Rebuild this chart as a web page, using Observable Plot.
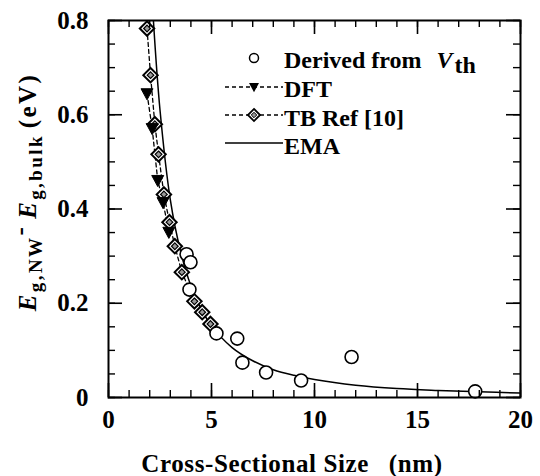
<!DOCTYPE html>
<html><head><meta charset="utf-8">
<script src="https://cdn.jsdelivr.net/npm/d3@7"></script>
<script src="https://cdn.jsdelivr.net/npm/@observablehq/plot@0.6"></script>
<style>
body{margin:0;background:#fff}
#chart{position:relative;width:540px;height:476px}
g[aria-label="ytick-label"] text{letter-spacing:3px}
</style></head><body><div id="chart"></div>
<script>
// ---- data ----
const vthX = [3.79, 3.98, 3.93, 5.24, 6.25, 6.5, 7.65, 9.35, 11.8, 17.8];
const vthY = [0.304, 0.287, 0.229, 0.136, 0.125, 0.074, 0.053, 0.036, 0.086, 0.013];
const dftX = [1.87, 2.12, 2.39, 2.65, 2.93];
const dftY = [0.645, 0.571, 0.461, 0.414, 0.351];
const tbX = [1.87, 2.04, 2.25, 2.43, 2.69, 2.96, 3.22, 3.56, 4.17, 4.55, 4.95];
const tbY = [0.783, 0.684, 0.58, 0.516, 0.431, 0.372, 0.321, 0.266, 0.204, 0.181, 0.156];
const emaX = [2.18, 2.5, 3, 3.5, 4, 4.5, 5, 6, 7, 8, 9, 10, 12, 14, 16, 18, 20];
const emaY = [0.80, 0.61, 0.42, 0.31, 0.237, 0.188, 0.152, 0.106, 0.078, 0.059, 0.047, 0.038, 0.026, 0.019, 0.015, 0.012, 0.0095];
const xTickLabels = [0, 5, 10, 15, 20];
const yTickLabels = [0, 0.2, 0.4, 0.6, 0.8];
const xMinor = d3.range(0, 21, 1);
const yMinor = d3.range(0, 0.801, 0.05);
const legendLabels = ["Derived from", "DFT", "TB Ref [10]", "EMA"];

// ---- tables ----
const zip = (xs, ys) => xs.map((x, i) => ({x, y: ys[i]}));
const vth = zip(vthX, vthY), dft = zip(dftX, dftY), tb = zip(tbX, tbY), ema = zip(emaX, emaY);

const W = 540, H = 476, mL = 108, mR = 20, mT = 20, mB = 79;
const pw = W - mL - mR, ph = H - mT - mB;
const font = "'Liberation Serif','Times New Roman',serif";
const triDown = {draw(ctx, size) {
  const r = Math.sqrt(size / Math.PI);
  ctx.moveTo(-r, -r * 0.8); ctx.lineTo(r, -r * 0.8); ctx.lineTo(0, r * 1.05); ctx.closePath();
}};

const plot = Plot.plot({
  width: W, height: H, marginLeft: mL, marginRight: mR, marginTop: mT, marginBottom: mB,
  x: {domain: [0, 20], axis: null},
  y: {domain: [0, 0.8], axis: null},
  style: {fontFamily: font, fontWeight: "bold", background: "white", color: "black"},
  marks: [
    Plot.line(ema, {x: "x", y: "y", curve: "catmull-rom", stroke: "black", strokeWidth: 1.5, clip: true}),
    Plot.line(dft, {x: "x", y: "y", stroke: "black", strokeWidth: 1.3, strokeDasharray: "4,3"}),
    Plot.line(tb, {x: "x", y: "y", stroke: "black", strokeWidth: 1.3, strokeDasharray: "4,3"}),
    Plot.dot(tb, {x: "x", y: "y", symbol: "diamond2", r: 6.5, fill: "white", stroke: "black", strokeWidth: 2}),
    Plot.dot(tb, {x: "x", y: "y", symbol: "diamond2", r: 3, fill: "#999", stroke: "black", strokeWidth: 1.2}),
    Plot.dot(dft, {x: "x", y: "y", symbol: triDown, r: 6, fill: "black", stroke: "black", strokeWidth: 1}),
    Plot.dot(vth, {x: "x", y: "y", r: 6.5, fill: "white", stroke: "black", strokeWidth: 1.6}),
    // ticks (inward, all four sides)
    Plot.ruleX(xMinor, {x: d => d, insetTop: ph - 7, strokeWidth: 1.4}),
    Plot.ruleX(xTickLabels, {x: d => d, insetTop: ph - 14, strokeWidth: 1.6}),
    Plot.ruleX(xMinor, {x: d => d, insetBottom: ph - 7, strokeWidth: 1.4}),
    Plot.ruleX(xTickLabels, {x: d => d, insetBottom: ph - 14, strokeWidth: 1.6}),
    Plot.ruleY(yMinor, {y: d => d, insetRight: pw - 7, strokeWidth: 1.4}),
    Plot.ruleY(yTickLabels, {y: d => d, insetRight: pw - 14, strokeWidth: 1.6}),
    Plot.ruleY(yMinor, {y: d => d, insetLeft: pw - 7, strokeWidth: 1.4}),
    Plot.ruleY(yTickLabels, {y: d => d, insetLeft: pw - 14, strokeWidth: 1.6}),
    Plot.frame({stroke: "black", strokeWidth: 2}),
    Plot.text(xTickLabels, {x: d => d, text: d => String(d), frameAnchor: "bottom", dy: 30, fontSize: 25, fontWeight: "bold", fill: "black", ariaLabel: "xtick-label"}),
    Plot.text(yTickLabels, {y: d => d, text: d => d === 0 ? "0" : d.toFixed(1), frameAnchor: "left", dx: -20, textAnchor: "end", fontSize: 25, fontWeight: "bold", fill: "black", ariaLabel: "ytick-label"})
  ]
});
document.getElementById("chart").appendChild(plot);

const svg = d3.select(plot);

// x title
const xt = svg.append("text").attr("x", 292).attr("y", 472).attr("text-anchor", "middle")
  .attr("font-size", 25).attr("font-weight", "bold").attr("font-family", font).attr("fill", "black")
  .style("letter-spacing", "0.6px");
xt.append("tspan").text("Cross-Sectional Size");
xt.append("tspan").attr("dx", 20).text("(nm)");

// y title
const yt = svg.append("text").attr("transform", "translate(36,192) rotate(-90)").attr("text-anchor", "middle")
  .attr("font-size", 25).attr("font-weight", "bold").attr("font-family", font).attr("fill", "black")
  .style("letter-spacing", "2.4px");
yt.append("tspan").attr("font-style", "italic").text("E");
yt.append("tspan").attr("font-size", 19).attr("dy", 6).text("g,NW");
yt.append("tspan").attr("dy", -14).text("-");
yt.append("tspan").attr("dy", 8).attr("dx", 6).attr("font-style", "italic").text("E");
yt.append("tspan").attr("font-size", 19).attr("dy", 6).text("g,bulk");
yt.append("tspan").attr("dy", -6).attr("dx", 6).text("(eV)");

// legend
const lg = svg.append("g").attr("font-family", font).attr("font-weight", "bold").attr("font-size", 24)
  .attr("fill", "black").attr("text-anchor", "start");
const rows = [58, 87, 115, 143];
const lx0 = 225, lx1 = 283, lmx = 254, ltx = 284;
// row 0: circle
lg.append("circle").attr("cx", lmx).attr("cy", rows[0]).attr("r", 4.5).attr("fill", "white").attr("stroke", "black").attr("stroke-width", 1.5);
const t0 = lg.append("text").attr("x", ltx).attr("y", rows[0] + 10);
t0.append("tspan").text(legendLabels[0]);
t0.append("tspan").attr("dx", 15).attr("font-style", "italic").text("V");
t0.append("tspan").attr("dy", 5).attr("dx", 2).text("th");
// row 1: DFT
lg.append("line").attr("x1", lx0).attr("x2", lx1).attr("y1", rows[1]).attr("y2", rows[1]).attr("stroke", "black").attr("stroke-width", 1.3).attr("stroke-dasharray", "4,3");
lg.append("path").attr("transform", `translate(${lmx},${rows[1]})`).attr("d", d3.symbol(triDown, Math.PI * 25)()).attr("fill", "black");
lg.append("text").attr("x", ltx).attr("y", rows[1] + 10).text(legendLabels[1]);
// row 2: TB
lg.append("line").attr("x1", lx0).attr("x2", lx1).attr("y1", rows[2]).attr("y2", rows[2]).attr("stroke", "black").attr("stroke-width", 1.3).attr("stroke-dasharray", "4,3");
lg.append("path").attr("transform", `translate(${lmx},${rows[2]})`).attr("d", d3.symbol(d3.symbolDiamond2, Math.PI * 30)()).attr("fill", "white").attr("stroke", "black").attr("stroke-width", 1.8);
lg.append("path").attr("transform", `translate(${lmx},${rows[2]})`).attr("d", d3.symbol(d3.symbolDiamond2, Math.PI * 6)()).attr("fill", "#999").attr("stroke", "black").attr("stroke-width", 1);
lg.append("text").attr("x", ltx).attr("y", rows[2] + 11).text(legendLabels[2]);
// row 3: EMA
lg.append("line").attr("x1", lx0).attr("x2", lx1).attr("y1", rows[3]).attr("y2", rows[3]).attr("stroke", "black").attr("stroke-width", 1.5);
lg.append("text").attr("x", ltx).attr("y", rows[3] + 11).text(legendLabels[3]);
</script></body></html>
